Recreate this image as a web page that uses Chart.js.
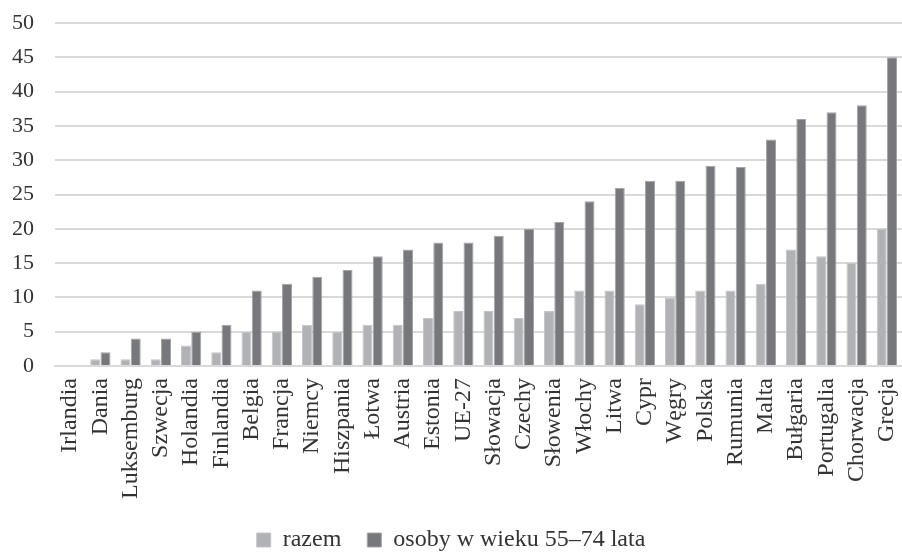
<!DOCTYPE html>
<html>
<head>
<meta charset="utf-8">
<script src="https://cdn.jsdelivr.net/npm/chart.js@4"></script>
<style>
  html, body { margin: 0; padding: 0; background: #fff; }
  #wrap { width: 902px; height: 552px; position: relative; }
</style>
</head>
<body>
<div id="wrap"><canvas id="chart"></canvas></div>
<script>
// kraje (kolejność jak na wykresie)
const countries = ['Irlandia', 'Dania', 'Luksemburg', 'Szwecja', 'Holandia', 'Finlandia', 'Belgia', 'Francja',
  'Niemcy', 'Hiszpania', 'Łotwa', 'Austria', 'Estonia', 'UE-27', 'Słowacja', 'Czechy', 'Słowenia', 'Włochy',
  'Litwa', 'Cypr', 'Węgry', 'Polska', 'Rumunia', 'Malta', 'Bułgaria', 'Portugalia', 'Chorwacja', 'Grecja'];

// wartości serii
const razem = [0, 1, 1, 1, 3, 2, 5, 5, 6, 5, 6, 6, 7, 8, 8, 7, 8, 11, 11, 9, 10, 11, 11, 12, 17, 16, 15, 20];
const osoby5574 = [0, 2, 4, 4, 5, 6, 11, 12, 13, 14, 16, 17, 18, 18, 19, 20, 21, 24, 26, 27, 27, 29.2, 29, 33, 36, 37, 38, 45];

// podziałka osi Y
const yTicks = [0, 5, 10, 15, 20, 25, 30, 35, 40, 45, 50];

const serif = "'Liberation Serif', 'DejaVu Serif', serif";
const textColor = '#333333';
const legendHeight = 50;

new Chart(document.getElementById('chart').getContext('2d'), {
  type: 'bar',
  data: {
    labels: countries,
    datasets: [{
      label: 'razem',
      data: razem,
      backgroundColor: '#b1b2b6',
      borderColor: '#c4c5c8',
      borderWidth: 1,
      categoryPercentage: 0.68,
      barPercentage: 0.97
    }, {
      label: 'osoby w wieku 55–74 lata',
      data: osoby5574,
      backgroundColor: '#77787c',
      borderColor: '#a3a4a7',
      borderWidth: 1,
      categoryPercentage: 0.68,
      barPercentage: 0.97
    }]
  },
  options: {
    responsive: true,
    maintainAspectRatio: false,
    animation: false,
    layout: { padding: { left: 0, right: 0, top: 23, bottom: 0 } },
    plugins: {
      legend: {
        display: true,
        position: 'bottom',
        maxHeight: legendHeight,
        labels: {
          color: textColor,
          font: { family: serif, size: 24 },
          boxWidth: 14,
          boxHeight: 14,
          padding: 26
        }
      },
      tooltip: { enabled: false }
    },
    scales: {
      x: {
        afterFit: (axis) => {
          axis.height = 552 - 366 - legendHeight;
          axis.paddingLeft = 0;
          axis.paddingRight = 0;
        },
        grid: { display: false, drawTicks: false },
        border: { display: true, color: '#d9d9d9', width: 2 },
        ticks: {
          color: textColor,
          font: { family: serif, size: 24 },
          minRotation: 90,
          maxRotation: 90,
          autoSkip: false,
          padding: 12
        }
      },
      y: {
        min: 0,
        max: 50,
        afterBuildTicks: (axis) => { axis.ticks = yTicks.map(v => ({ value: v })); },
        afterFit: (axis) => { axis.width = 55; },
        grid: { color: '#d9d9d9', lineWidth: 2, drawTicks: true, tickLength: 21, tickColor: 'rgba(0,0,0,0)' },
        border: { display: false },
        ticks: {
          color: textColor,
          font: { family: serif, size: 22 },
          padding: 0
        }
      }
    }
  }
});
</script>
</body>
</html>
